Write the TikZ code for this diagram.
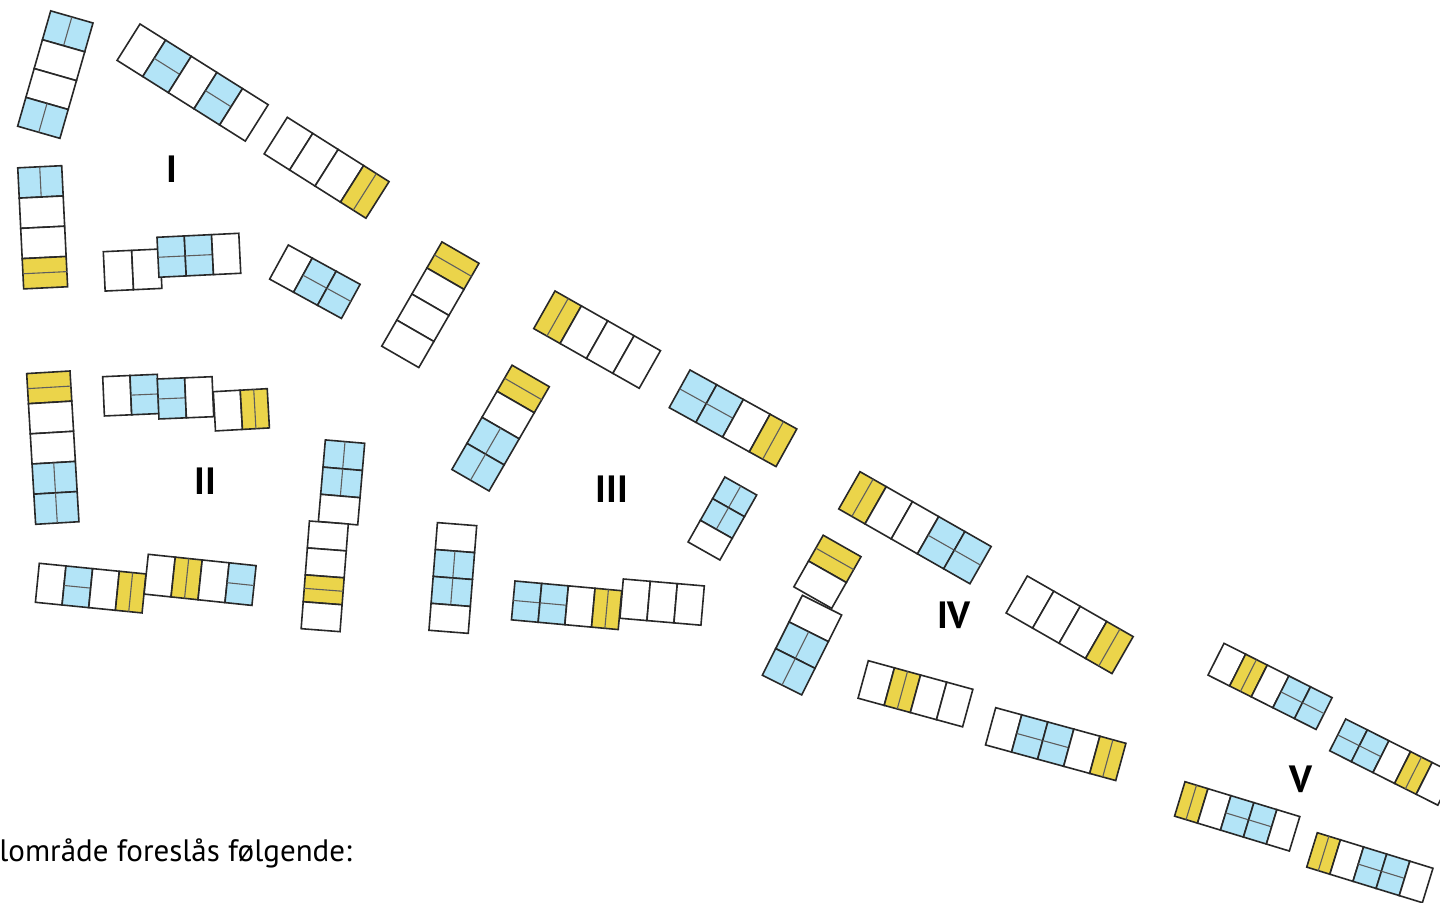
\documentclass[tikz,border=0pt]{standalone}
\usepackage{fontspec}
\setmainfont{PT Sans}
\usepackage{tikz}
\usetikzlibrary{positioning}
\definecolor{CellBlue}{RGB}{179, 228, 247}
\definecolor{CellYellow}{RGB}{235, 212, 74}
\definecolor{CellLine}{RGB}{40, 40, 40}

% one row of cells: corner, angle (clockwise), cell length, cell width, cell types
\newcommand{\cellrow}[5]{%
  \def\celllen{#3}\def\cellwid{#4}%
  \begin{scope}[shift={#1}, rotate=-#2]
    \foreach \c [count=\i from 0] in {#5} {\csname cell\c\endcsname}
  \end{scope}}
\newcommand{\cellW}{\draw[cell] ({\i*\celllen},0) rectangle ({(\i+1)*\celllen},\cellwid);}
\newcommand{\cellB}{\draw[cell, fill=CellBlue] ({\i*\celllen},0) rectangle ({(\i+1)*\celllen},\cellwid);
  \draw[divider] ({\i*\celllen},{\cellwid/2}) -- ({(\i+1)*\celllen},{\cellwid/2});}
\newcommand{\cellY}{\draw[cell, fill=CellYellow] ({\i*\celllen},0) rectangle ({(\i+1)*\celllen},\cellwid);
  \draw[divider] ({(\i+0.5)*\celllen},0) -- ({(\i+0.5)*\celllen},\cellwid);}

\tikzset{
  cell/.style={draw=CellLine, line width=0.8pt, fill=white},
  divider/.style={draw=CellLine!75, line width=0.55pt},
  zonelabel/.style={font=\bfseries\fontsize{19}{22}\selectfont, inner sep=0pt}
}

\begin{document}
\begin{tikzpicture}[x=0.5pt, y=-0.5pt]
  \useasboundingbox (0,0) rectangle (1440,903);
  \clip (0,0) rectangle (1440,903);

  % Area I
  \cellrow{(93,23)}{106}{30}{44}{B,W,W,B}
  \cellrow{(140,24)}{32.2}{30.3}{43}{W,B,W,B,W}
  \cellrow{(287.3,117.3)}{32.3}{30.1}{43.3}{W,W,W,Y}
  \cellrow{(61.7,165.7)}{87.2}{30.3}{44}{B,W,W,Y}
  \cellrow{(103.3,251.7)}{-2.7}{28.4}{39.4}{W,W}
  \cellrow{(157,237.3)}{-2.8}{27.3}{40}{B,B,W}
  \cellrow{(288.3,245)}{28.7}{27.3}{38.9}{W,B,B}
  \cellrow{(479,263.3)}{120}{30.1}{42.8}{Y,W,W,W}
  \node[zonelabel] (zoneI) at (171.7,169.7) {I};

  % Area II
  \cellrow{(70,371)}{86.6}{30.2}{43.4}{Y,W,W,B,B}
  \cellrow{(102.7,376.7)}{-2.5}{27.3}{39.3}{W,B}
  \cellrow{(157.3,379)}{-2.4}{27.4}{40}{B,W}
  \cellrow{(213.3,391.7)}{-3.2}{27}{39.3}{W,Y}
  \cellrow{(39.3,563.3)}{5.7}{26.8}{39.2}{W,B,W,Y}
  \cellrow{(148.3,554.3)}{6}{27.1}{40}{W,Y,W,B}
  \cellrow{(364.7,443.3)}{94.9}{27.3}{39.5}{B,B,W}
  \cellrow{(348.3,524)}{94.4}{27}{39}{W,W,Y,W}
  \cellrow{(476.7,525.7)}{94.5}{27}{39.4}{W,B,B,W}
  \node[zonelabel] (zoneII) at (205.8,481.7) {II};

  % Area III
  \cellrow{(549.3,386.7)}{120}{30.1}{43}{Y,W,B,B}
  \cellrow{(555,291)}{29.5}{30.3}{43.2}{Y,W,W,W}
  \cellrow{(690,370)}{28.9}{30.5}{43}{B,B,W,Y}
  \cellrow{(756.7,495)}{119.5}{24.9}{36.6}{B,B,W}
  \cellrow{(515,581)}{5.2}{26.8}{39}{B,B,W,Y}
  \cellrow{(623.3,579)}{4.9}{27.1}{39.4}{W,W,W}
  \node[zonelabel] (zoneIII) at (612,489) {III};

  % Area IV
  \cellrow{(861,556.7)}{119.6}{29.7}{43.5}{Y,W}
  \cellrow{(841.7,615)}{116.6}{29.8}{44}{W,B,B}
  \cellrow{(860,471.7)}{29.7}{30.2}{42.9}{Y,W,W,B,B}
  \cellrow{(1027.3,576)}{29.8}{30.5}{42.6}{W,W,W,Y}
  \cellrow{(868.3,660.7)}{15.3}{27.1}{38.9}{W,Y,W,W}
  \cellrow{(995.7,707.7)}{15.3}{27}{38.6}{W,B,B,W,Y}
  \node[zonelabel] (zoneIV) at (954,615) {IV};

  % Area V
  \cellrow{(1224,643.3)}{26.7}{24.2}{35.6}{W,Y,W,B,B}
  \cellrow{(1345.7,719)}{26.7}{24.2}{35.6}{B,B,W,Y,W}
  \cellrow{(1185,781.7)}{16.9}{24}{36}{Y,W,B,B,W}
  \cellrow{(1317.3,832.7)}{17.1}{24.2}{36}{Y,W,B,B,W}
  \node[zonelabel] (zoneV) at (1300.7,779) {V};

  % Caption
  \node[anchor=base west, inner sep=0pt, font=\fontsize{15.5}{18}\selectfont] (caption) at (-1,861) {lområde foreslås følgende:};
\end{tikzpicture}
\end{document}
